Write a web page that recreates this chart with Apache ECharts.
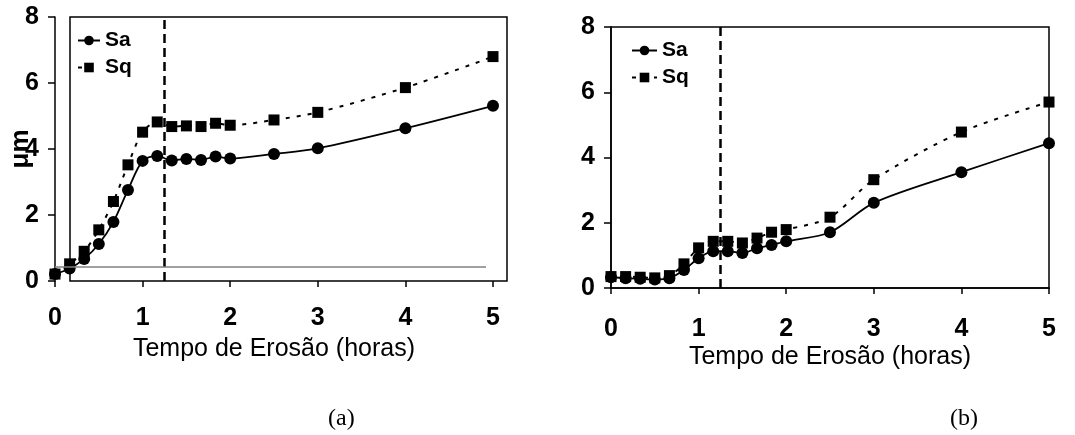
<!DOCTYPE html>
<html>
<head>
<meta charset="utf-8">
<script src="https://cdn.jsdelivr.net/npm/echarts@6/dist/echarts.min.js"></script>
<style>
  html, body { margin: 0; padding: 0; background: #fff; }
  #chart { width: 1075px; height: 435px; }
</style>
</head>
<body>
<div id="chart"></div>
<script>
// erosion time (hours), sampled every 10 min up to 2 h
const hours = [0, 0.167, 0.333, 0.5, 0.667, 0.833, 1, 1.167, 1.333, 1.5, 1.667, 1.833, 2, 2.5, 3, 4, 5];

// panel (a)
const saA = [0.21, 0.38, 0.67, 1.12, 1.79, 2.76, 3.64, 3.79, 3.65, 3.70, 3.67, 3.77, 3.71, 3.85, 4.02, 4.63, 5.31];
const sqA = [0.21, 0.52, 0.90, 1.55, 2.41, 3.52, 4.51, 4.82, 4.68, 4.70, 4.68, 4.78, 4.72, 4.88, 5.11, 5.86, 6.80];

// panel (b)
const saB = [0.33, 0.30, 0.28, 0.26, 0.30, 0.55, 0.91, 1.13, 1.13, 1.07, 1.22, 1.32, 1.43, 1.71, 2.61, 3.55, 4.44];
const sqB = [0.35, 0.35, 0.33, 0.31, 0.38, 0.74, 1.23, 1.43, 1.43, 1.38, 1.53, 1.71, 1.79, 2.17, 3.32, 4.78, 5.70];

const cutTime = 1.25;     // vertical dashed line
const baseLevel = 0.42;   // grey reference line in (a)
const baseEnd = 4.92;

const xTitle = 'Tempo de Erosão (horas)';
const yTitle = 'μm';

const pairs = (ys) => hours.map((h, i) => [h, ys[i]]);

const sans = 'Liberation Sans, Arial, sans-serif';
const tickLabel = { color: '#000', fontFamily: sans, fontWeight: 'bold', fontSize: 25 };

function xAx(grid, showLine, margin, gap) {
  return {
    gridIndex: grid, type: 'value', min: 0, max: 5, interval: 1,
    axisLine: { show: showLine, lineStyle: { color: '#000', width: 1.5 } },
    axisTick: { show: true, length: 6, lineStyle: { color: '#000', width: 1.5 } },
    axisLabel: Object.assign({ margin: margin }, tickLabel),
    splitLine: { show: false },
    name: xTitle, nameLocation: 'middle', nameGap: gap, nameMoveOverlap: false,
    nameTextStyle: { color: '#000', fontFamily: sans, fontSize: 25 }
  };
}

function yAx(grid, name) {
  return {
    gridIndex: grid, type: 'value', min: 0, max: 8, interval: 2,
    axisLine: { show: true, lineStyle: { color: '#000', width: 1.5 } },
    axisTick: { show: true, length: 7, lineStyle: { color: '#000', width: 1.5 } },
    axisLabel: Object.assign({ margin: 16 }, tickLabel),
    splitLine: { show: false },
    name: name, nameLocation: 'middle', nameGap: 21, nameRotate: 90, nameMoveOverlap: false,
    nameTextStyle: { color: '#000', fontFamily: sans, fontWeight: 'bold', fontSize: 26 }
  };
}

function saSeries(xi, yi, data, extraLines) {
  return {
    name: 'Sa', type: 'line', xAxisIndex: xi, yAxisIndex: yi,
    data: pairs(data), smooth: 0.3,
    symbol: 'circle', symbolSize: 12,
    itemStyle: { color: '#000' },
    lineStyle: { color: '#000', width: 1.8 },
    markLine: {
      silent: true, symbol: 'none', label: { show: false },
      data: [
        { xAxis: cutTime, lineStyle: { color: '#000', width: 2.5, type: [9, 5] } }
      ].concat(extraLines || [])
    }
  };
}

function sqSeries(xi, yi, data) {
  return {
    name: 'Sq', type: 'line', xAxisIndex: xi, yAxisIndex: yi,
    data: pairs(data), smooth: 0.3,
    symbol: 'rect', symbolSize: 11,
    itemStyle: { color: '#000' },
    lineStyle: { color: '#000', width: 2, type: [4, 7] }
  };
}

function legend(left, top, width) {
  return {
    orient: 'vertical', left: left, top: top,
    itemWidth: width, itemHeight: 12, itemGap: 6,
    data: ['Sa', 'Sq'],
    textStyle: { color: '#000', fontFamily: sans, fontWeight: 'bold', fontSize: 21, lineHeight: 21 }
  };
}

const chart = echarts.init(document.getElementById('chart'));

const gridBase = { outerBoundsMode: 'none', containLabel: false };

const option = {
  animation: false,
  backgroundColor: '#fff',
  grid: [
    Object.assign({ left: 55, top: 17, width: 438, height: 264, show: false }, gridBase),
    Object.assign({ left: 70, top: 17, width: 437, height: 264, show: true, borderColor: '#000', borderWidth: 1.5, backgroundColor: 'transparent' }, gridBase),
    Object.assign({ left: 611, top: 27, width: 438, height: 261, show: true, borderColor: '#000', borderWidth: 1.5, backgroundColor: 'transparent' }, gridBase)
  ],
  xAxis: [
    xAx(0, false, 25, 56),
    { gridIndex: 1, type: 'value', min: 0, max: 1, show: false },
    xAx(2, true, 29, 57)
  ],
  yAxis: [
    yAx(0, yTitle),
    { gridIndex: 1, type: 'value', min: 0, max: 1, show: false },
    yAx(2, '')
  ],
  legend: [legend(72, 25, 22), legend(626, 35, 25)],
  series: [
    saSeries(0, 0, saA, [[
      { coord: [0, baseLevel], lineStyle: { color: '#808080', width: 1.5, type: 'solid' } },
      { coord: [baseEnd, baseLevel] }
    ]]),
    sqSeries(0, 0, sqA),
    saSeries(2, 2, saB),
    sqSeries(2, 2, sqB)
  ],
  graphic: [
    { type: 'text', left: 328, top: 407, style: { text: '(a)', fill: '#000', font: '24px "Liberation Serif", "Times New Roman", serif' } },
    { type: 'text', left: 950, top: 407, style: { text: '(b)', fill: '#000', font: '24px "Liberation Serif", "Times New Roman", serif' } }
  ]
};

chart.setOption(option);
</script>
</body>
</html>
